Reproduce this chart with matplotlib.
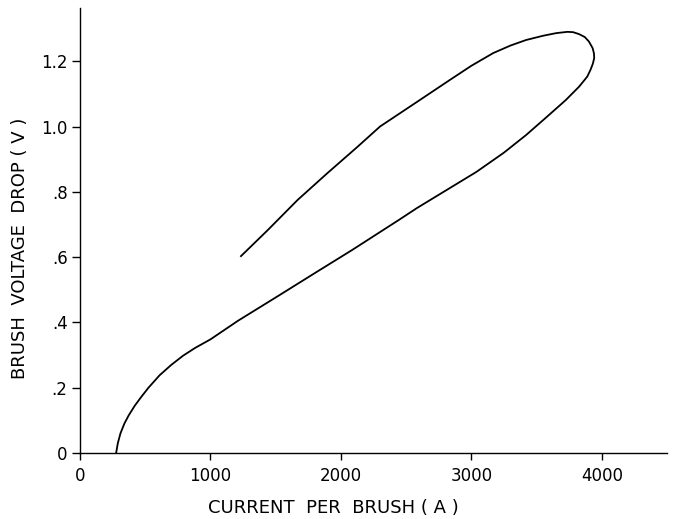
import matplotlib
matplotlib.use("Agg")
import matplotlib.pyplot as plt

# brush voltage drop vs current
# lower branch (rising current) then the upper branch coming back
current = [277, 290, 310, 340, 373, 420, 470, 525, 610, 700, 790, 883,
           1000, 1100, 1211, 1515, 1820, 2087, 2445, 2582, 3039, 3250, 3420,
           3580, 3724, 3826, 3889, 3915, 3932, 3942, 3940, 3930, 3902, 3870,
           3826, 3780, 3737, 3650, 3550, 3420, 3300, 3168, 3000, 2833, 2582,
           2300, 2125, 1896, 1668, 1440, 1234]
voltage = [0.0, 0.03, 0.06, 0.09, 0.115, 0.145, 0.172, 0.20, 0.238, 0.27,
           0.298, 0.322, 0.348, 0.375, 0.405, 0.48, 0.556, 0.622, 0.714,
           0.75, 0.861, 0.92, 0.974, 1.03, 1.081, 1.122, 1.153, 1.175, 1.193,
           1.21, 1.224, 1.24, 1.26, 1.274, 1.283, 1.289, 1.29, 1.286, 1.278,
           1.265, 1.248, 1.225, 1.186, 1.142, 1.075, 1.0, 0.937, 0.857, 0.775,
           0.683, 0.603]

xticks = [0, 1000, 2000, 3000, 4000]
yticks = [0, 0.2, 0.4, 0.6, 0.8, 1.0, 1.2]
ytick_labels = ["0", ".2", ".4", ".6", ".8", "1.0", "1.2"]

fig = plt.figure(figsize=(6.74, 5.19), dpi=100)
ax = fig.add_axes([80 / 674, 66 / 519, 587 / 674, 445 / 519])

ax.plot(current, voltage, color="black", lw=1.3, solid_joinstyle="round")

ax.set_xlim(0, 4500)
ax.set_ylim(0, 1.363)
ax.set_xticks(xticks)
ax.set_xticklabels([str(t) for t in xticks])
ax.set_yticks(yticks)
ax.set_yticklabels(ytick_labels)

for s in ["top", "right"]:
    ax.spines[s].set_visible(False)
for s in ["left", "bottom"]:
    ax.spines[s].set_linewidth(1.0)

ax.tick_params(axis="x", direction="out", length=5, width=1.0, labelsize=12, pad=5)
ax.tick_params(axis="y", direction="out", length=6, width=1.0, labelsize=12, pad=3)

ax.set_xlabel("CURRENT  PER  BRUSH ( A )", fontsize=13, va="center")
ax.xaxis.set_label_coords((333 - 80) / 587, -(508 - 453) / 445)
ax.set_ylabel("BRUSH  VOLTAGE  DROP ( V )", fontsize=13, va="center")
ax.yaxis.set_label_coords(-(80 - 20) / 587, (453 - 248) / 445)

fig.savefig("out.png", dpi=100)
